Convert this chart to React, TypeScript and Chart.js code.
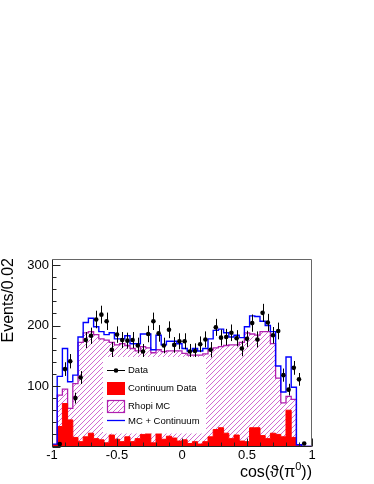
import React, { useEffect, useRef } from 'react';
import { Chart, registerables } from 'chart.js';

Chart.register(...registerables);

// ---- axis ranges / binning ----
const X_MIN = -1;
const X_MAX = 1;
const BIN_WIDTH = 0.04;
const Y_MIN = 0;
const Y_MAX = 310;

// ---- histogram contents (50 bins from -1 to 1) ----
const dataCounts = [
  0, 4, 128, 141, 80, 114, 176, 183, 210, 218,
  207, 160, 185, 176, 175, 176, 167, 157, 186, 207,
  187, 167, 193, 168, 174, 174, 157, 158, 169, 177,
  160, 197, 180, 181, 188, 179, 162, 178, 204, 177,
  221, 205, 184, 191, 118, 94, 130, 111, 5, 0,
];

const continuumData = [
  0, 3, 33, 71, 44, 15, 8, 16, 22, 13,
  11, 6, 19, 12, 8, 16, 8, 13, 20, 22,
  6, 22, 12, 17, 14, 9, 11, 5, 8, 4,
  8, 16, 28, 31, 22, 13, 19, 9, 8, 31,
  31, 18, 13, 22, 20, 16, 60, 15, 3, 0,
];

const rhopiMC = [
  1, 1, 85, 95, 63, 104, 172, 188, 190, 185,
  178, 176, 172, 168, 170, 167, 162, 158, 165, 163,
  155, 160, 157, 158, 158, 158, 154, 151, 151, 151,
  153, 160, 163, 165, 167, 168, 168, 172, 188, 186,
  184, 190, 190, 170, 113, 72, 83, 78, 2, 0,
];

const mcPlusContinuum = [
  2, 4, 116, 162, 107, 118, 181, 205, 212, 198,
  190, 185, 188, 178, 178, 183, 170, 170, 186, 186,
  160, 184, 168, 174, 174, 170, 162, 158, 162, 158,
  162, 178, 192, 194, 188, 181, 184, 180, 198, 216,
  215, 207, 200, 190, 133, 90, 148, 98, 3, 0,
];

// ---- ticks / labels ----
const xTickValues = [-1, -0.5, 0, 0.5, 1];
const xTickLabels = ['-1', '-0.5', '0', '0.5', '1'];
const yTickValues = [100, 200, 300];
const yTickLabels = ['100', '200', '300'];
const legendLabels = ['Data', 'Continuum Data', 'Rhopi MC', 'MC + Continuum'];
const yTitle = 'Events/0.02';
const xTitleParts = ['cos(\u03D1(\u03C0', '0', '))'];

// ---- styles ----
const FONT = '"Liberation Sans", Arial, Helvetica, "DejaVu Sans", sans-serif';
const RED = '#ff0000';
const BLUE = '#0000ff';
const MAGENTA_LINE = '#b020b0';
const MAGENTA_HATCH = '#cc5acc';

function stepPoints(vals: number[]) {
  const pts: { x: number; y: number }[] = [{ x: X_MIN, y: 0 }];
  vals.forEach((v, i) => pts.push({ x: X_MIN + i * BIN_WIDTH, y: v }));
  pts.push({ x: X_MAX, y: vals[vals.length - 1] });
  pts.push({ x: X_MAX, y: 0 });
  return pts;
}

function makeHatch(ctx: CanvasRenderingContext2D, color: string) {
  const s = 5;
  const c = document.createElement('canvas');
  c.width = s;
  c.height = s;
  const g = c.getContext('2d')!;
  g.strokeStyle = color;
  g.lineWidth = 0.9;
  g.beginPath();
  g.moveTo(0, s);
  g.lineTo(s, 0);
  g.moveTo(-1, 1);
  g.lineTo(1, -1);
  g.moveTo(s - 1, s + 1);
  g.lineTo(s + 1, s - 1);
  g.stroke();
  return ctx.createPattern(c, 'repeat')!;
}

export default function App() {
  const ref = useRef<HTMLCanvasElement>(null);

  useEffect(() => {
    const canvas = ref.current!;
    const ctx = canvas.getContext('2d')!;
    const hatch = makeHatch(ctx, MAGENTA_HATCH);

    const dataPoints = dataCounts
      .map((n, i) => ({ x: X_MIN + (i + 0.5) * BIN_WIDTH, y: n }))
      .filter((p) => p.y > 0);

    const rootPlugin = {
      id: 'rootStyle',
      afterDatasetsDraw(chart: any) {
        const c = chart.ctx as CanvasRenderingContext2D;
        const xs = chart.scales.x;
        const ys = chart.scales.y;
        // error bars
        c.save();
        c.strokeStyle = '#000';
        c.lineWidth = 1;
        dataCounts.forEach((n, i) => {
          if (n <= 0) return;
          const x = Math.round(xs.getPixelForValue(X_MIN + (i + 0.5) * BIN_WIDTH)) + 0.5;
          const e = Math.sqrt(n);
          c.beginPath();
          c.moveTo(x, ys.getPixelForValue(n + e));
          c.lineTo(x, ys.getPixelForValue(Math.max(0, n - e)));
          c.stroke();
        });
        c.restore();

        // legend
        c.save();
        const lx = 103, ly = 357, lw = 103, lh = 76.5;
        c.fillStyle = '#fff';
        c.fillRect(lx, ly, lw, lh);
        const sx0 = 107, sx1 = 125, tx = 128;
        const rows = [370, 388.5, 406.5, 421.5];
        // Data
        c.strokeStyle = '#000';
        c.lineWidth = 1;
        c.beginPath();
        c.moveTo(sx0, rows[0] + 0.5);
        c.lineTo(sx1, rows[0] + 0.5);
        c.stroke();
        c.fillStyle = '#000';
        c.beginPath();
        c.arc((sx0 + sx1) / 2, rows[0] + 0.5, 2.3, 0, Math.PI * 2);
        c.fill();
        // Continuum
        c.fillStyle = RED;
        c.fillRect(sx0, 382, sx1 - sx0, 13);
        // Rhopi MC
        c.fillStyle = hatch;
        c.fillRect(sx0, 400, sx1 - sx0, 13);
        c.strokeStyle = MAGENTA_LINE;
        c.lineWidth = 1.2;
        c.strokeRect(sx0 + 0.5, 400.5, sx1 - sx0 - 1, 12);
        // MC + Continuum
        c.strokeStyle = BLUE;
        c.lineWidth = 1.3;
        c.beginPath();
        c.moveTo(sx0, 420.5);
        c.lineTo(sx1, 420.5);
        c.stroke();
        // texts
        c.fillStyle = '#000';
        c.font = `9.5px ${FONT}`;
        c.textAlign = 'left';
        c.textBaseline = 'middle';
        legendLabels.forEach((t, i) => c.fillText(t, tx, rows[i]));
        c.restore();
      },
      afterDraw(chart: any) {
        const c = chart.ctx as CanvasRenderingContext2D;
        const xs = chart.scales.x;
        const ys = chart.scales.y;
        const { left, right, top, bottom } = chart.chartArea;
        const L = Math.floor(left) + 0.5;
        const R = Math.ceil(right) - 0.5;
        const T = Math.floor(top) + 0.5;
        const B = Math.floor(bottom) + 0.5;
        c.save();
        // frame
        c.strokeStyle = '#666';
        c.lineWidth = 1;
        c.beginPath();
        c.moveTo(L, T);
        c.lineTo(R, T);
        c.lineTo(R, B);
        c.stroke();
        c.strokeStyle = '#222';
        c.beginPath();
        c.moveTo(L, T);
        c.lineTo(L, B);
        c.lineTo(R, B);
        c.stroke();
        // y ticks (inside)
        for (let v = Y_MIN; v <= 300; v += 20) {
          const y = Math.round(ys.getPixelForValue(v)) + 0.5;
          const len = v % 100 === 0 ? 8 : 4;
          c.beginPath();
          c.moveTo(L, y);
          c.lineTo(L + len, y);
          c.stroke();
        }
        // x ticks (inside)
        for (let k = -10; k <= 10; k++) {
          const x = Math.round(xs.getPixelForValue(k / 10)) + 0.5;
          const len = k % 5 === 0 ? 8 : 4;
          c.beginPath();
          c.moveTo(x, B);
          c.lineTo(x, B - len);
          c.stroke();
        }
        // y title
        c.fillStyle = '#000';
        c.font = `16px ${FONT}`;
        c.save();
        c.translate(13, 258);
        c.rotate(-Math.PI / 2);
        c.textAlign = 'right';
        c.textBaseline = 'alphabetic';
        c.fillText(yTitle, 0, 0);
        c.restore();
        // x title with superscript
        const big = `16px ${FONT}`;
        const small = `11px ${FONT}`;
        c.textAlign = 'left';
        c.textBaseline = 'alphabetic';
        c.font = big;
        const w1 = c.measureText(xTitleParts[0]).width;
        const w3 = c.measureText(xTitleParts[2]).width;
        c.font = small;
        const w2 = c.measureText(xTitleParts[1]).width;
        let x0 = Math.ceil(right) - (w1 + w2 + w3);
        const yb = 477;
        c.font = big;
        c.fillText(xTitleParts[0], x0, yb);
        x0 += w1;
        c.font = small;
        c.fillText(xTitleParts[1], x0, yb - 7);
        x0 += w2;
        c.font = big;
        c.fillText(xTitleParts[2], x0, yb);
        c.restore();
      },
    };

    const chart = new Chart(ctx, {
      type: 'line',
      data: {
        datasets: [
          {
            label: legendLabels[0],
            data: dataPoints,
            showLine: false,
            pointRadius: 2.3,
            pointBackgroundColor: '#000',
            pointBorderColor: '#000',
            pointBorderWidth: 0,
            order: 0,
          } as any,
          {
            label: legendLabels[3],
            data: stepPoints(mcPlusContinuum),
            stepped: 'after',
            borderColor: BLUE,
            borderWidth: 1.4,
            pointRadius: 0,
            fill: false,
            order: 1,
          },
          {
            label: legendLabels[1],
            data: stepPoints(continuumData),
            stepped: 'after',
            borderColor: RED,
            borderWidth: 1,
            backgroundColor: RED,
            fill: 'origin',
            pointRadius: 0,
            order: 2,
          },
          {
            label: legendLabels[2],
            data: stepPoints(rhopiMC),
            stepped: 'after',
            borderColor: MAGENTA_LINE,
            borderWidth: 1.3,
            backgroundColor: hatch,
            fill: 'origin',
            pointRadius: 0,
            order: 3,
          },
        ],
      },
      options: {
        animation: false,
        responsive: false,
        maintainAspectRatio: false,
        devicePixelRatio: 1,
        events: [],
        layout: { padding: { top: 259, right: 62, left: 0, bottom: 0 } },
        plugins: {
          legend: { display: false },
          tooltip: { enabled: false },
          title: { display: false },
        },
        scales: {
          x: {
            type: 'linear',
            min: X_MIN,
            max: X_MAX,
            grid: { display: false, drawTicks: false },
            border: { display: false },
            afterBuildTicks: (s: any) => {
              s.ticks = xTickValues.map((v) => ({ value: v }));
            },
            afterFit: (s: any) => {
              s.height = 37.5;
            },
            ticks: {
              autoSkip: false,
              maxRotation: 0,
              padding: 1,
              color: '#000',
              font: { family: FONT, size: 13 },
              callback: (_v: any, i: number) => xTickLabels[i],
            },
          },
          y: {
            type: 'linear',
            min: Y_MIN,
            max: Y_MAX,
            grid: { display: false, drawTicks: false },
            border: { display: false },
            afterBuildTicks: (s: any) => {
              s.ticks = yTickValues.map((v) => ({ value: v }));
            },
            afterFit: (s: any) => {
              s.width = 52;
            },
            ticks: {
              padding: 3,
              color: '#000',
              font: { family: FONT, size: 13 },
              callback: (_v: any, i: number) => yTickLabels[i],
            },
          },
        },
      } as any,
      plugins: [rootPlugin],
    });

    return () => chart.destroy();
  }, []);

  return (
    <div style={{ position: 'fixed', left: 0, top: 0, width: 374, height: 484, background: '#fff' }}>
      <canvas ref={ref} width={374} height={484} style={{ display: 'block', width: 374, height: 484 }} />
    </div>
  );
}
